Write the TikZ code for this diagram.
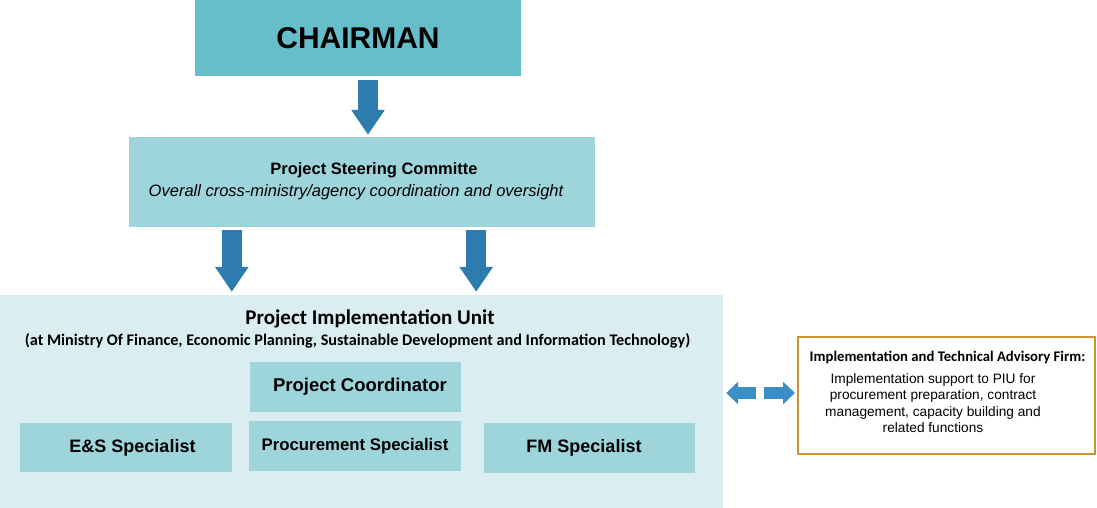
\documentclass[tikz,border=0pt]{standalone}
\usepackage{fontspec}
\setmainfont{Liberation Sans}
\newfontfamily\calibri{Carlito}
\usetikzlibrary{positioning, arrows.meta, calc}
\definecolor{chairteal}{HTML}{66BECA}
\definecolor{boxteal}{HTML}{9ED5DB}
\definecolor{unitteal}{HTML}{DAEEF1}
\definecolor{arrblue}{HTML}{2E7BB0}
\definecolor{linkblue}{HTML}{3C8FC6}
\definecolor{firmgold}{HTML}{C99334}

\begin{document}
\begin{tikzpicture}[
    x=1pt, y=-1pt,
    box/.style={rectangle, fill=boxteal, inner sep=0pt, align=center,
                font=\bfseries},
    txt/.style={inner sep=0pt, align=center},
    varr/.style={arrblue, line width=20pt,
                 -{Triangle[width=32pt, length=25pt]}},
    harr/.style={linkblue, line width=12pt,
                 -{Triangle[width=22pt, length=12pt]}},
  ]
  \useasboundingbox (0,0) rectangle (1097,508);

  \node[box, fill=chairteal, minimum width=326pt, minimum height=76pt,
        font=\bfseries\fontsize{30}{36}\selectfont] (chair) at (358,38) {CHAIRMAN};
  \node[box, minimum width=466pt, minimum height=90pt] (psc) at (362,182) {};
  \node[txt, font=\bfseries\fontsize{16.5}{20}\selectfont] (psctitle) at (374,170)
       {Project Steering Committe};
  \node[txt, font=\itshape\fontsize{16.5}{20}\selectfont] (psctext) at (356,192)
       {Overall cross-ministry/agency coordination and oversight};

  \node[box, fill=unitteal, minimum width=723pt, minimum height=213pt] (piu) at (361.5,401.5) {};
  \node[txt, font=\calibri\bfseries\fontsize{21}{25}\selectfont]
       (piutitle) at (370,319) {Project Implementation Unit};
  \node[txt, font=\calibri\bfseries\fontsize{16.2}{19}\selectfont]
       (piusub) at (357.5,341)
       {(at Ministry Of Finance, Economic Planning, Sustainable Development and Information Technology)};

  \node[box, minimum width=211pt, minimum height=50pt, font=\bfseries\fontsize{18.5}{22}\selectfont]
       (coord) at (355.5,387) {\hspace*{9pt}Project Coordinator};
  \node[box, minimum width=212pt, minimum height=49pt, font=\bfseries\fontsize{18}{22}\selectfont]
       (es) at (126,447.5) {\hspace*{13pt}E\&S Specialist};
  \node[box, minimum width=212pt, minimum height=50pt, font=\bfseries\fontsize{16.8}{20}\selectfont]
       (proc) at (355,446) {Procurement Specialist};
  \node[box, minimum width=211pt, minimum height=50pt, font=\bfseries\fontsize{18}{22}\selectfont]
       (fm) at (589.5,448) {FM Specialist\hspace*{11pt}};

  \node[rectangle, draw=firmgold, line width=2pt, fill=white, minimum width=297pt,
        minimum height=117pt, inner sep=0pt] (adv) at (946.5,395.5) {};
  \node[txt, font=\calibri\bfseries\fontsize{14.7}{17}\selectfont]
       (advtitle) at (947.5,357) {Implementation and Technical Advisory Firm:};
  \node[txt, font=\fontsize{13.7}{16.3}\selectfont]
       (advtext) at (933,403)
       {Implementation support to PIU for\\procurement preparation, contract\\
        management, capacity building and\\related functions};

  \draw[varr, shorten <=4pt, shorten >=2pt]
       ([xshift=10pt]chair.south) -- ([xshift=10pt]chair.south |- psc.north);
  \draw[varr, shorten <=3pt, shorten >=3pt]
       ([xshift=103pt]psc.south west) -- ([xshift=103pt]psc.south west |- piu.north);
  \draw[varr, shorten <=3pt, shorten >=3pt]
       ([xshift=-119pt]psc.south east) -- ([xshift=-119pt]psc.south east |- piu.north);

  \draw[harr] ([xshift=33pt, yshift=2.5pt]piu.east |- adv.west)
       -- ([xshift=3pt, yshift=2.5pt]piu.east |- adv.west);
  \draw[harr] ([xshift=-33pt, yshift=2.5pt]adv.west) -- ([xshift=-2pt, yshift=2.5pt]adv.west);
\end{tikzpicture}
\end{document}
